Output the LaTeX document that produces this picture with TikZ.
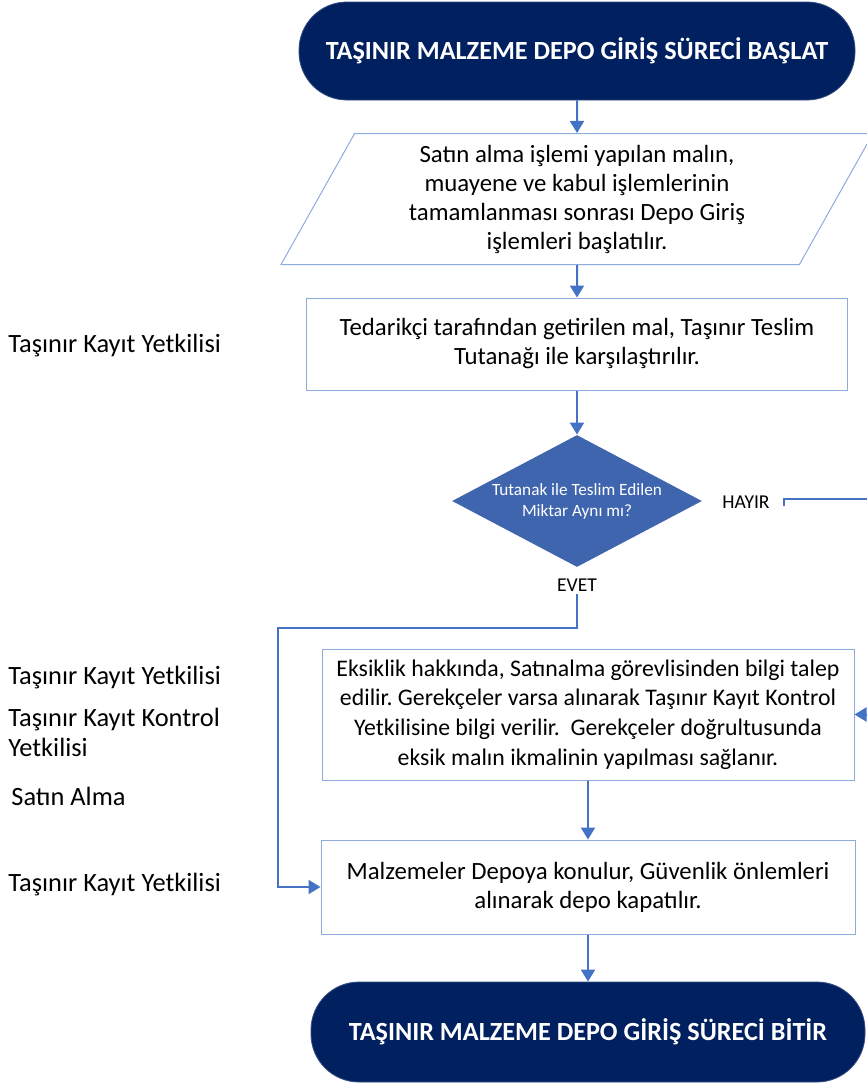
\documentclass[tikz,border=0pt]{standalone}
\usepackage{fontspec}
\setmainfont{Carlito}
\usetikzlibrary{shapes.geometric,arrows.meta}
\frenchspacing

\definecolor{navy}{HTML}{002060}
\definecolor{flowblue}{HTML}{4472C4}
\definecolor{boxline}{HTML}{8FAADC}
\definecolor{decfill}{HTML}{3F65AE}

\tikzset{
  flow/.style={draw=flowblue, line width=1pt, -{Triangle[width=7pt,length=6pt]}},
  terminal/.style={fill=navy, draw=navy!80!white, rounded corners=24pt, text=white,
    font=\fontsize{13.1}{15}\selectfont\bfseries},
  stepbox/.style={draw=boxline, line width=0.5pt, inner sep=1pt},
}

\begin{document}
\begin{tikzpicture}[x=0.5pt,y=-0.5pt]
        \clip (0,0) rectangle (867,1084);

        \begin{scope}[every node/.style={align=center, font=\fontsize{12.4}{14.5}\selectfont}]
          \node[terminal, minimum width=278pt, minimum height=49pt] (start) at (577,51)
            {TAŞINIR MALZEME DEPO GİRİŞ SÜRECİ BAŞLAT};
          \node[stepbox, trapezium, trapezium left angle=63.4, trapezium right angle=116.6,
            trapezium stretches=true, minimum width=296.5pt, minimum height=65.5pt] (input) at (577,199)
            {Satın alma işlemi yapılan malın,\\muayene ve kabul işlemlerinin\\tamamlanması sonrası Depo Giriş\\işlemleri başlatılır.};
          \node[stepbox, minimum width=270.5pt, minimum height=46pt] (compare) at (577,344)
            {Tedarikçi tarafından getirilen mal, Taşınır Teslim\\Tutanağı ile karşılaştırılır.};
          \node[diamond, fill=decfill, text=white, aspect=1.9, inner sep=0pt,
            minimum width=125pt, minimum height=66pt,
            font=\fontsize{8.6}{10.5}\selectfont] (decide) at (577,501)
            {Tutanak ile Teslim Edilen\\Miktar Aynı mı?};
          \node[stepbox, minimum width=266pt, minimum height=65.5pt,
            font=\fontsize{11.9}{14.8}\selectfont] (missing) at (588,714.5)
            {Eksiklik hakkında, Satınalma görevlisinden bilgi talep\\edilir. Gerekçeler varsa alınarak Taşınır Kayıt Kontrol\\Yetkilisine bilgi verilir.\ \ Gerekçeler doğrultusunda\\eksik malın ikmalinin yapılması sağlanır.};
          \node[stepbox, minimum width=267pt, minimum height=47pt] (store) at (588,887)
            {Malzemeler Depoya konulur, Güvenlik önlemleri\\alınarak depo kapatılır.};
          \node[terminal, minimum width=277pt, minimum height=50pt] (stop) at (588,1032)
            {TAŞINIR MALZEME DEPO GİRİŞ SÜRECİ BİTİR};
        \end{scope}

        % answers of the decision
        \begin{scope}[every node/.style={inner sep=1pt, font=\fontsize{9.8}{11}\selectfont}]
          \node (hayir) at (746,502) {HAYIR};
          \node (evet)  at (577,585) {EVET};
        \end{scope}

        % who does each step
        \begin{scope}[every node/.style={anchor=west, align=left, inner sep=0pt,
            font=\fontsize{13.2}{15}\selectfont}]
          \node (role1) at (8,346) {Taşınır Kayıt Yetkilisi};
          \node (role2) at (8,678) {Taşınır Kayıt Yetkilisi};
          \node (role3) at (8,732) {Taşınır Kayıt Kontrol\\Yetkilisi};
          \node (role4) at (11,796) {Satın Alma};
          \node (role5) at (8,885) {Taşınır Kayıt Yetkilisi};
        \end{scope}

        \coordinate (hs)   at (784,506);
        \coordinate (exit) at (900,499);
        \coordinate (bend) at (278,628);

        \begin{scope}[every edge/.style={flow}]
          \path (start.south)   edge (input.north);
          \path (input.south)   edge (compare.north);
          \path (compare.south) edge (decide.north);
          \path (missing.south) edge (store.north);
          \path (store.south)   edge (stop.north);
        \end{scope}
        \draw[flow] (hs) |- (exit) |- (missing.east);
        \draw[flow] (evet.south) |- (bend) |- (store.west);

      \end{tikzpicture}
\end{document}
